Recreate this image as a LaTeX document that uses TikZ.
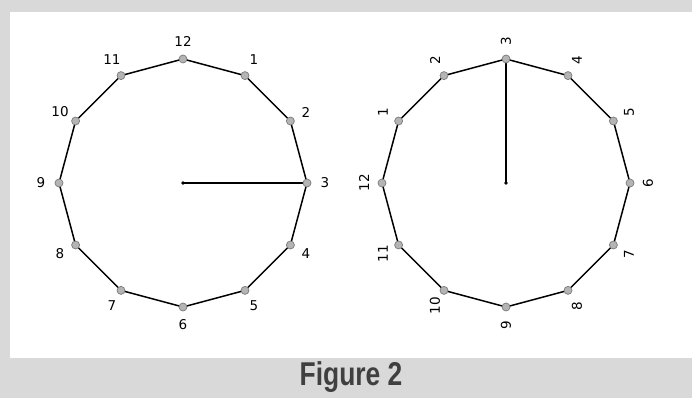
\documentclass[tikz,border=0pt]{standalone}
\usepackage{fontspec}
\setmainfont{DejaVu Sans}
\newfontfamily\capfont{Liberation Sans}

\definecolor{framegrey}{HTML}{D9D9D9}
\definecolor{captiongrey}{HTML}{404040}
\definecolor{dotfill}{HTML}{B4B4B4}
\definecolor{dotedge}{HTML}{7A7A7A}

\tikzset{
  vertexdot/.style={circle, fill=dotfill, draw=dotedge, line width=0.7pt, inner sep=0pt, minimum size=8pt},
  hourlabel/.style={font=\fontsize{13.5}{13.5}\selectfont, inner sep=0pt},
  rim/.style={line width=1.5pt, line join=round},
  hand/.style={line width=1.5pt},
}

\begin{document}
\begin{tikzpicture}[x=1pt, y=1pt]
  \useasboundingbox (0,0) rectangle (692,398);
  % frame
  \fill[framegrey] (0,0) rectangle (692,398);
  \fill[white] (10,40) rectangle (692,386);

  % left clock, 3 o'clock to the right
  \begin{scope}[shift={(183,215)}]
    \coordinate (lc) at (0,0);
    \foreach \h in {1,...,12} {
      \coordinate (l\h) at ({90-30*\h}:124);
      \node[hourlabel] (lt\h) at ({90-30*\h}:142) {\h};
    }
    \draw[rim] (l1) \foreach \h in {2,...,12} { -- (l\h) } -- cycle;
    \draw[hand] (lc) -- (l3);
    \fill (lc) circle (1.8);
    \foreach \h in {1,...,12}
      \node[vertexdot] (ld\h) at (l\h) {};
  \end{scope}

  % right clock, turned a quarter
  \begin{scope}[shift={(506,215)}]
    \coordinate (rc) at (0,0);
    \foreach \h in {1,...,12} {
      \coordinate (r\h) at ({180-30*\h}:124);
      \node[hourlabel, rotate=90] (rt\h) at ({180-30*\h}:142) {\h};
    }
    \draw[rim] (r1) \foreach \h in {2,...,12} { -- (r\h) } -- cycle;
    \draw[hand] (rc) -- (r3);
    \fill (rc) circle (1.8);
    \foreach \h in {1,...,12}
      \node[vertexdot] (rd\h) at (r\h) {};
  \end{scope}

  % caption
  \node[text=captiongrey, inner sep=0pt] (caption) at (351,21)
    {\scalebox{0.8}[1]{\capfont\bfseries\fontsize{33}{33}\selectfont Figure 2}};
\end{tikzpicture}
\end{document}
